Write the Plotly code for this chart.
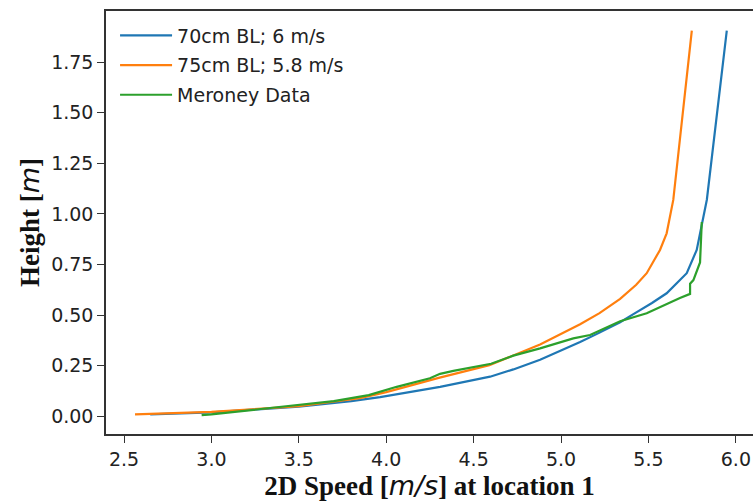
import plotly.graph_objects as go

# 70cm BL; 6 m/s
bl70_speed = [2.65, 3.0, 3.5, 3.8, 3.965, 4.308, 4.594, 4.727, 4.88, 5.0, 5.109, 5.2, 5.338, 5.414, 5.52, 5.604, 5.719, 5.776, 5.795, 5.824, 5.834, 5.948]
bl70_height = [0.01, 0.02, 0.048, 0.075, 0.095, 0.146, 0.196, 0.232, 0.28, 0.325, 0.367, 0.405, 0.465, 0.505, 0.56, 0.608, 0.707, 0.822, 0.904, 1.02, 1.07, 1.905]

# 75cm BL; 5.8 m/s
bl75_speed = [2.563, 3.0, 3.5, 3.85, 4.0, 4.3, 4.59, 4.88, 5.109, 5.22, 5.338, 5.43, 5.49, 5.566, 5.604, 5.642, 5.748]
bl75_height = [0.01, 0.022, 0.05, 0.09, 0.12, 0.19, 0.253, 0.355, 0.455, 0.51, 0.58, 0.65, 0.707, 0.822, 0.904, 1.069, 1.905]

# Meroney Data
mer_speed = [2.944, 3.0, 3.374, 3.7, 3.9, 3.965, 4.06, 4.25, 4.308, 4.384, 4.537, 4.60, 4.727, 4.88, 5.07, 5.166, 5.338, 5.49, 5.68, 5.738, 5.738, 5.757, 5.795, 5.80, 5.805]
mer_height = [0.006, 0.01, 0.045, 0.075, 0.105, 0.122, 0.146, 0.188, 0.21, 0.225, 0.25, 0.26, 0.30, 0.336, 0.385, 0.402, 0.47, 0.509, 0.585, 0.605, 0.655, 0.673, 0.76, 0.85, 0.96]

x_ticks = [2.5, 3.0, 3.5, 4.0, 4.5, 5.0, 5.5, 6.0]
y_ticks = [0.0, 0.25, 0.5, 0.75, 1.0, 1.25, 1.5, 1.75]

series = [
    ("70cm BL; 6 m/s", bl70_speed, bl70_height, "#1f77b4"),
    ("75cm BL; 5.8 m/s", bl75_speed, bl75_height, "#ff7f0e"),
    ("Meroney Data", mer_speed, mer_height, "#2ca02c"),
]

fig = go.Figure()
for i, (name, xs, ys, col) in enumerate(series):
    fig.add_trace(go.Scatter(x=xs, y=ys, mode="lines", name=name,
                             legendgroup=f"g{i}",
                             line=dict(color=col, width=2.2)))

tick_font = dict(family="DejaVu Sans", size=19, color="#222222")
title_font = dict(family="Liberation Serif", size=27, color="#111111", weight="bold")
mstyle = "font-family:'DejaVu Sans';font-weight:normal;font-style:italic"

fig.update_layout(
    width=753, height=502,
    margin=dict(l=106, r=0, t=11, b=68, autoexpand=False),
    paper_bgcolor="white", plot_bgcolor="white",
    showlegend=True,
    legend=dict(x=0.014, y=0.987, xanchor="left", yanchor="top",
                xref="paper", yref="paper",
                font=dict(family="DejaVu Sans", size=19, color="#222222"),
                bgcolor="rgba(0,0,0,0)", borderwidth=0,
                tracegroupgap=2, traceorder="grouped", itemwidth=52),
    xaxis=dict(range=[2.397, 6.098], tickvals=x_ticks, tickformat=".1f",
               automargin=False,
               showgrid=False, zeroline=False, showline=True, linecolor="#333333",
               linewidth=1.5, mirror=True, ticks="outside", ticklen=7, tickwidth=1.3,
               tickcolor="#333333", tickfont=tick_font,
               title=dict(text=f"2D Speed [<span style=\"{mstyle}\">m/s</span>] at location 1",
                          font=title_font, standoff=4)),
    yaxis=dict(range=[-0.087, 2.002], tickvals=y_ticks, tickformat=".2f",
               automargin=False,
               showgrid=False, zeroline=False, showline=True, linecolor="#333333",
               linewidth=1.5, mirror=False, ticks="outside", ticklen=7, tickwidth=1.3,
               tickcolor="#333333", tickfont=tick_font,
               title=dict(text=f"Height [<span style=\"{mstyle}\">m</span>]",
                          font=title_font, standoff=4)),
)

fig.write_html("out.html", config={"displayModeBar": False},
               post_script="document.body.style.margin='0';")
